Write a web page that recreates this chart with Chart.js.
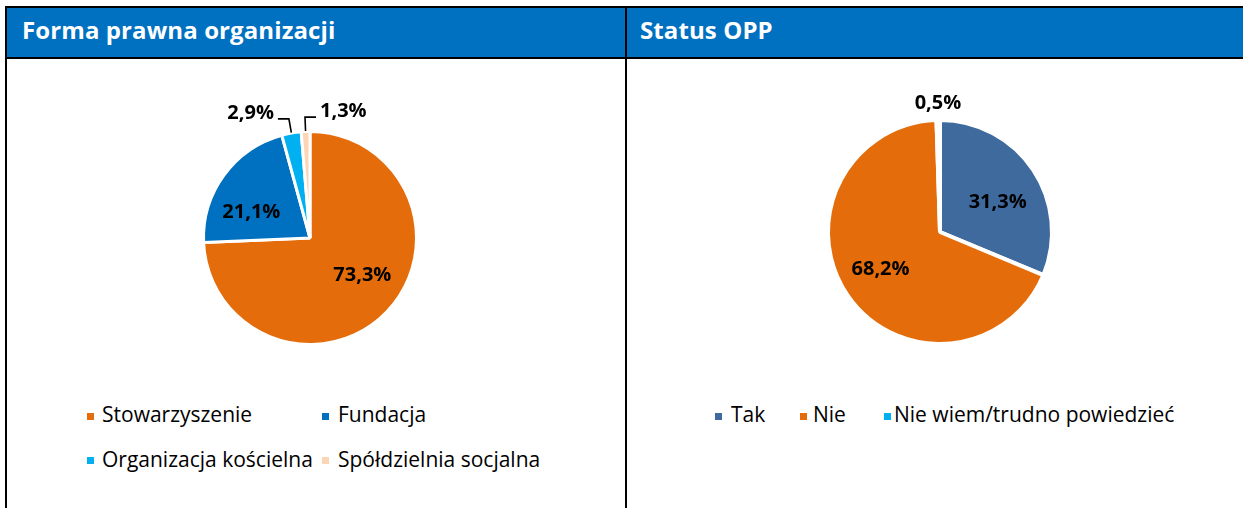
<!DOCTYPE html>
<html>
<head>
<meta charset="utf-8">
<script src="https://cdn.jsdelivr.net/npm/chart.js@4.4.1/dist/chart.umd.min.js"></script>
<style>
  html, body { margin:0; padding:0; }
  body { width:1243px; height:508px; background:#fff; position:relative; overflow:hidden; font-family:"Open Sans", sans-serif; }
  .abs { position:absolute; }
  .black { background:#000; }
  .hdr { background:#0070C0; }
  .title { color:#fff; font-weight:700; font-size:24px; line-height:24px; letter-spacing:0.1px; white-space:nowrap; }
  .lg-box { width:7px; height:7px; }
  .lg-txt { font-size:21px; line-height:21px; color:#000; white-space:nowrap; }
</style>
</head>
<body>
<div class="abs hdr" style="left:7px;top:8px;width:1236px;height:49px;"></div>
<div class="abs black" style="left:5px;top:6px;width:1238px;height:2px;"></div>
<div class="abs black" style="left:5px;top:57px;width:1238px;height:2px;"></div>
<div class="abs black" style="left:5px;top:6px;width:2px;height:502px;"></div>
<div class="abs black" style="left:625px;top:6px;width:2px;height:502px;"></div>
<div id="tLeft" class="abs title" style="left:22px;top:18px;"></div>
<div id="tRight" class="abs title" style="left:640px;top:18px;"></div>

<canvas id="cLeft" class="abs" width="300" height="300" style="left:160px;top:88px;"></canvas>
<canvas id="cRight" class="abs" width="300" height="300" style="left:790px;top:82px;"></canvas>
<div id="legends"></div>

<script>
// ---- data ----
const leftTitle = 'Forma prawna organizacji';
const rightTitle = 'Status OPP';
const leftCategories = ['Stowarzyszenie', 'Fundacja', 'Organizacja kościelna', 'Spółdzielnia socjalna'];
const leftValues = [73.3, 21.1, 2.9, 1.3];
const rightCategories = ['Tak', 'Nie', 'Nie wiem/trudno powiedzieć'];
const rightValues = [31.3, 68.2, 0.5];

// ---- styles ----
const leftColors = ['#E46C0A', '#0070C0', '#00B0F0', '#FCD5B5'];
const rightColors = ['#3F6A9E', '#E46C0A', '#00B0F0'];

document.getElementById('tLeft').textContent = leftTitle;
document.getElementById('tRight').textContent = rightTitle;

function fmt(v) { return v.toFixed(1).replace('.', ',') + '%'; }

const pieLabels = {
  id: 'pieLabels',
  afterDatasetsDraw(chart, args, opts) {
    const ctx = chart.ctx;
    const meta = chart.getDatasetMeta(0);
    const vals = chart.data.datasets[0].data;
    ctx.save();
    ctx.font = 'bold 20px "Open Sans"';
    ctx.fillStyle = '#000';
    meta.data.forEach((arc, i) => {
      const p = arc.getProps(['x', 'y', 'startAngle', 'endAngle', 'outerRadius'], true);
      const r = p.outerRadius - opts.bw / 2;
      const mid = (p.startAngle + p.endAngle) / 2;
      const mode = opts.modes[i];
      const text = fmt(vals[i]);
      if (mode === 'in' || mode === 'out') {
        const a = mid + (opts.shift[i] || 0) * Math.PI / 180;
        const d = opts.dist[i] * r;
        ctx.textAlign = 'center';
        ctx.textBaseline = 'middle';
        ctx.fillText(text, p.x + Math.cos(a) * d, p.y + Math.sin(a) * d);
      } else {
        const x0 = p.x + Math.cos(mid) * (r + 2), y0 = p.y + Math.sin(mid) * (r + 2);
        const x1 = p.x + Math.cos(mid) * (r + 16), y1 = p.y + Math.sin(mid) * (r + 16);
        const dir = mode === 'left' ? -1 : 1;
        const x2 = x1 + dir * 11;
        ctx.beginPath();
        ctx.moveTo(x0, y0); ctx.lineTo(x1, y1); ctx.lineTo(x2, y1);
        ctx.strokeStyle = '#000'; ctx.lineWidth = 1.6; ctx.stroke();
        ctx.textAlign = mode === 'left' ? 'right' : 'left';
        ctx.textBaseline = 'middle';
        ctx.fillText(text, x2 + dir * 4, y1 - 6);
      }
    });
    ctx.restore();
  }
};

function makePie(id, labels, values, colors, radius, bw, labelOpts) {
  labelOpts.bw = bw;
  return new Chart(document.getElementById(id), {
    type: 'pie',
    data: { labels: labels, datasets: [{ data: values, backgroundColor: colors, borderColor: '#fff', borderWidth: bw }] },
    options: {
      responsive: false, animation: false, events: [],
      radius: radius,
      layout: { padding: 0 },
      plugins: { legend: { display: false }, tooltip: { enabled: false }, pieLabels: labelOpts }
    },
    plugins: [pieLabels]
  });
}

makePie('cLeft', leftCategories, leftValues, leftColors, 106.5, 3,
  { modes: ['in', 'in', 'left', 'right'], dist: [0.61, 0.61, 0, 0], shift: [-8.6, -12.5, 0, 0] });
makePie('cRight', rightCategories, rightValues, rightColors, 112, 4,
  { modes: ['in', 'in', 'out'], dist: [0.59, 0.64, 1.17], shift: [6.3, 2.2, 0] });

// ---- legends (HTML) ----
const lg = document.getElementById('legends');
function addItem(color, text, boxX, boxY, txtX, txtY) {
  const b = document.createElement('div');
  b.className = 'abs lg-box'; b.style.left = boxX + 'px'; b.style.top = boxY + 'px'; b.style.background = color;
  const t = document.createElement('div');
  t.className = 'abs lg-txt'; t.style.left = txtX + 'px'; t.style.top = txtY + 'px'; t.textContent = text;
  lg.appendChild(b); lg.appendChild(t);
}
const leftCols = [[87, 102], [322, 338]];
const leftRows = [[413, 404], [457, 449]];
leftCategories.forEach((c, i) => {
  const col = leftCols[i % 2], row = leftRows[Math.floor(i / 2)];
  addItem(leftColors[i], c, col[0], row[0], col[1], row[1]);
});
const rightCols = [[715, 731], [800, 813], [884, 894]];
rightCategories.forEach((c, i) => {
  addItem(rightColors[i], c, rightCols[i][0], 413, rightCols[i][1], 404);
});
</script>
</body>
</html>
